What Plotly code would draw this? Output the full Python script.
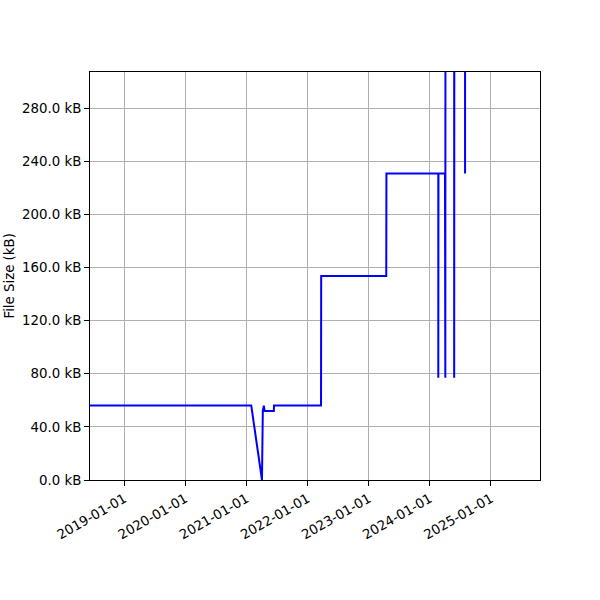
import plotly.graph_objects as go

dates = [
    "2018-06-10", "2021-01-29", "2021-04-03", "2021-04-08", "2021-04-14",
    "2021-04-19", "2021-06-13", "2021-06-14", "2022-03-22", "2022-03-23",
    "2023-04-16", "2023-04-17", "2024-02-21", "2024-02-21", "2024-02-22",
    "2024-04-01", "2024-04-03", "2024-04-03", "2024-04-04", "2024-05-26",
    "2024-05-26", "2024-05-27", "2024-07-30", "2024-07-30",
]
size_kb = [
    56.0, 56.0, 0.0, 52.0, 56.0,
    52.0, 52.0, 56.0, 56.0, 153.5,
    153.5, 230.7, 230.7, 77.0, 230.7,
    230.7, 420.0, 77.0, 420.0, 420.0,
    77.0, 420.0, 420.0, 230.7,
]

y_ticks = [0, 40, 80, 120, 160, 200, 240, 280]
y_tick_labels = [f"{v:.1f} kB" for v in y_ticks]
x_ticks = ["2019-01-01", "2020-01-01", "2021-01-01", "2022-01-01",
           "2023-01-01", "2024-01-01", "2025-01-01"]

fig = go.Figure()
fig.add_trace(go.Scatter(x=dates, y=size_kb, mode="lines",
                         line=dict(color="#0000ff", width=2), showlegend=False,
                         hoverinfo="skip"))

FS = 13.33
axis_common = dict(
    showline=True, linecolor="black", linewidth=1, mirror=True,
    ticks="outside", ticklen=5, tickwidth=1, tickcolor="black",
    showgrid=True, gridcolor="#b0b0b0", gridwidth=1, zeroline=False,
    tickfont=dict(family="DejaVu Sans", size=FS, color="black"),
    automargin=False,
)

fig.update_layout(
    width=600, height=600,
    margin=dict(l=90, r=60, t=72, b=120),
    paper_bgcolor="white", plot_bgcolor="white",
    font=dict(family="DejaVu Sans", size=FS, color="black"),
    xaxis=dict(type="date", range=["2018-06-10", "2025-10-21"],
               tickvals=x_ticks, ticktext=x_ticks, tickangle=-30, **axis_common),
    yaxis=dict(range=[0, 307.1], tickvals=y_ticks, ticktext=y_tick_labels,
               **axis_common),
    annotations=[dict(text="File Size (kB)", xref="paper", yref="paper",
                      x=-0.181, y=0.5, xanchor="center", yanchor="middle",
                      textangle=-90, showarrow=False,
                      font=dict(family="DejaVu Sans", size=FS, color="black"))],
)

fig.write_html("out.html", config={"displayModeBar": False},
               post_script="document.body.style.margin='0';")
